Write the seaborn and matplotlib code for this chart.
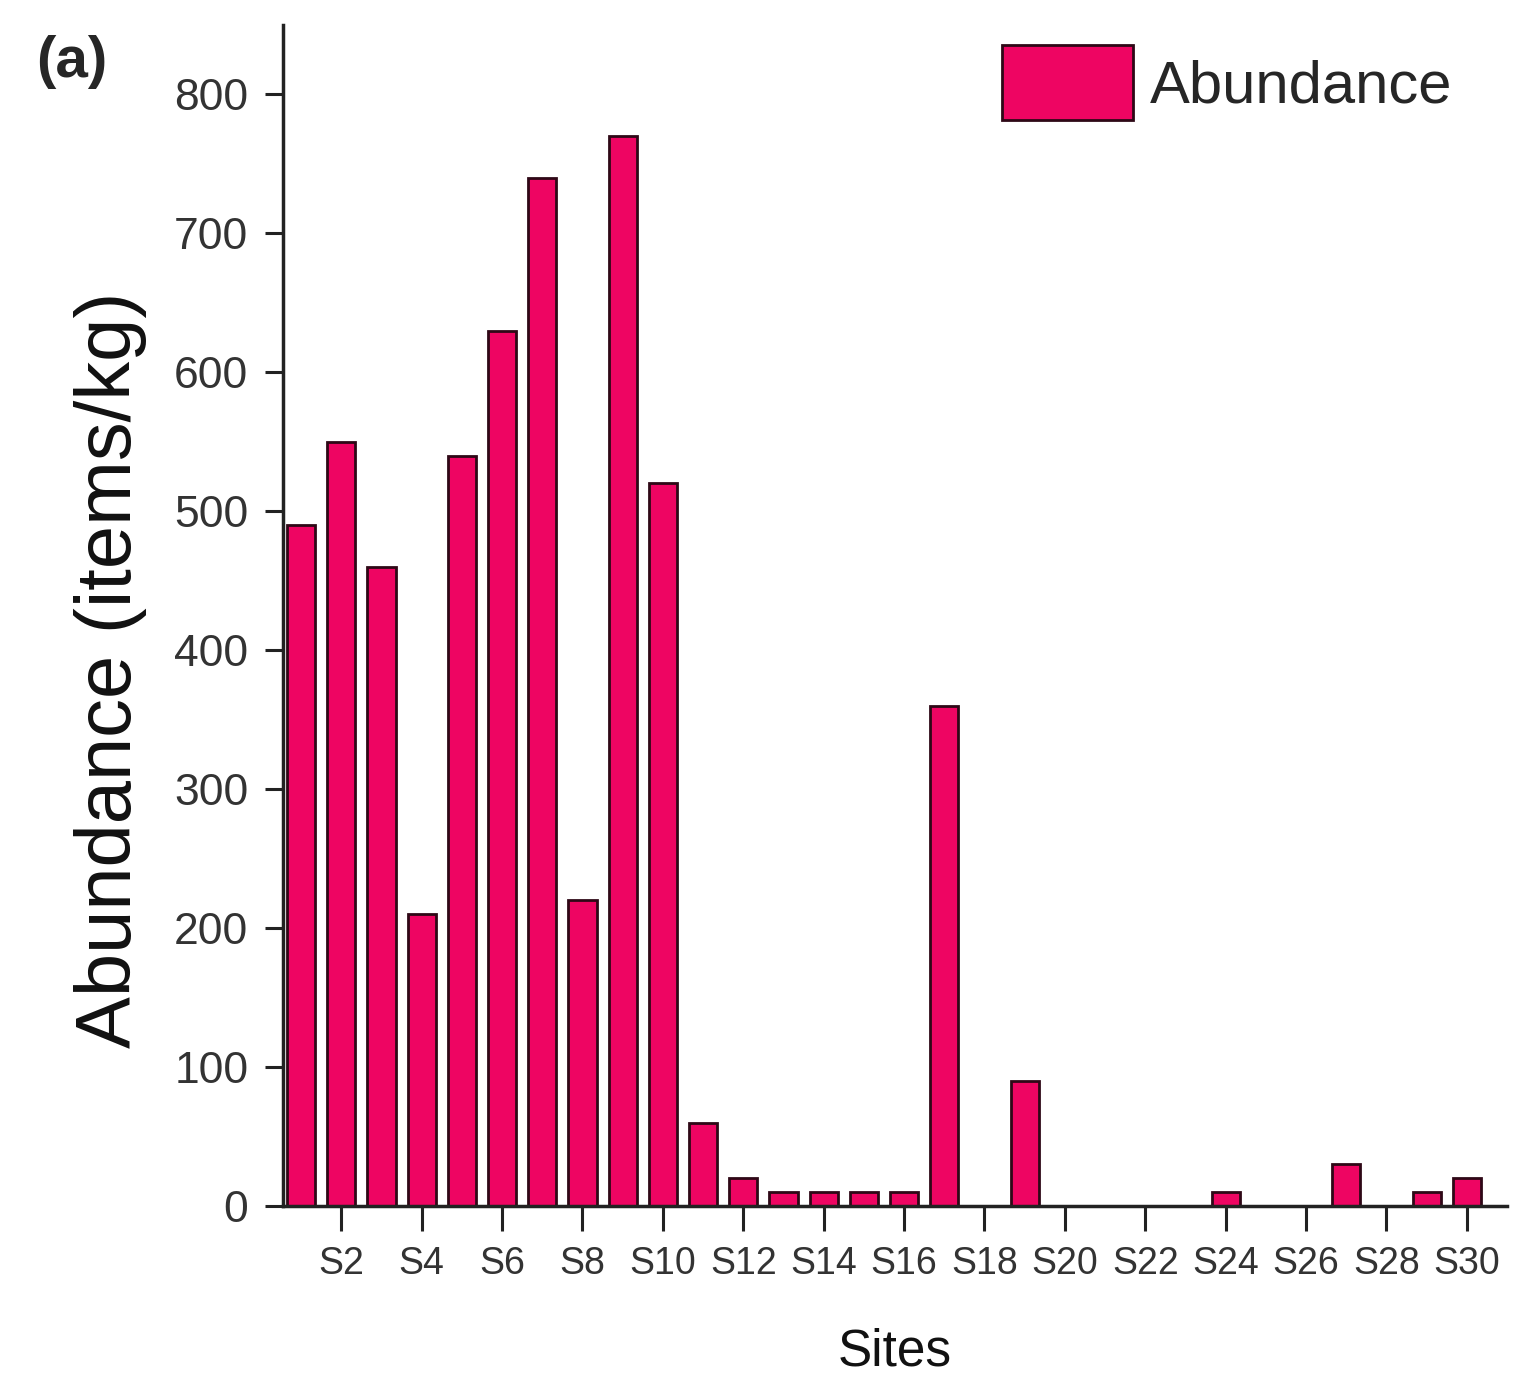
import matplotlib
matplotlib.use("Agg")
import matplotlib.pyplot as plt
import seaborn as sns
import pandas as pd
from matplotlib import font_manager as fm

sites = [f"S{i}" for i in range(1, 31)]
abundance = [490, 550, 460, 210, 540, 630, 740, 220, 770, 520,
             60, 20, 10, 10, 10, 10, 360, 0, 90, 0,
             0, 0, 0, 10, 0, 0, 30, 0, 10, 20]
tick_sites = sites[1::2]
y_ticks = [0, 100, 200, 300, 400, 500, 600, 700, 800]

sns.set_style("ticks")
names = {f.name for f in fm.fontManager.ttflist}
narrow = "Liberation Sans Narrow" if "Liberation Sans Narrow" in names else "Liberation Sans"
plt.rcParams["font.family"] = ["Liberation Sans", "DejaVu Sans"]

df = pd.DataFrame({"Sites": sites, "Abundance": abundance})

fig = plt.figure(figsize=(15.25, 13.8), dpi=100)
ax = fig.add_axes([0.1856, 0.1261, 0.8026, 0.8558])

bar_color = "#EE0562"
sns.barplot(data=df, x="Sites", y="Abundance", order=sites, color=bar_color,
            saturation=1, width=0.7, edgecolor="#2e0816", linewidth=2.0,
            ax=ax, label="Abundance")

ax.set_xlim(-0.45, 30.0)
ax.set_ylim(0, 850)
ax.set_xticks([sites.index(s) for s in tick_sites])
ax.set_xticklabels(tick_sites, fontsize=27, family=[narrow, "DejaVu Sans"], color="#333333")
ax.set_yticks(y_ticks)
ax.set_yticklabels([str(v) for v in y_ticks], fontsize=32, family=[narrow, "DejaVu Sans"], color="#333333")

ax.tick_params(axis="x", length=18, width=2.2, pad=11, color="#222222")
ax.tick_params(axis="y", length=13, width=2.2, pad=12, color="#222222")
for side in ["top", "right"]:
    ax.spines[side].set_visible(False)
for side in ["left", "bottom"]:
    ax.spines[side].set_linewidth(2.5)
    ax.spines[side].set_color("#222222")

ax.set_ylabel("Abundance (items/kg)", fontsize=56, color="#111111")
ax.yaxis.set_label_coords(-0.111, 0.454)
ax.set_xlabel("Sites", fontsize=37, family=[narrow, "DejaVu Sans"], color="#111111")
ax.xaxis.set_label_coords(0.5, -0.103)

leg = ax.legend(loc="upper right", bbox_to_anchor=(0.955, 0.983), frameon=False,
                fontsize=43, handlelength=2.2, handleheight=1.55, handletextpad=0.27,
                borderpad=0, borderaxespad=0)

fig.text(0.024, 0.955, "(a)", fontsize=42, fontweight="bold", va="center", ha="left")

fig.savefig("out.png", dpi=100, facecolor="white")
